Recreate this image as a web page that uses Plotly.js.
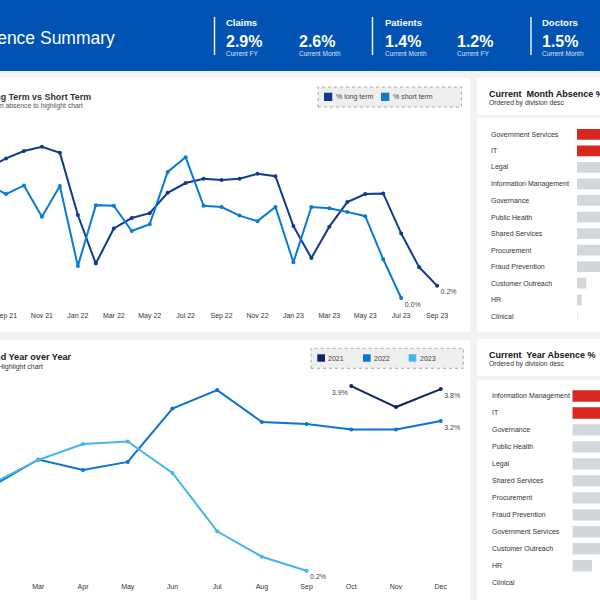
<!DOCTYPE html>
<html><head><meta charset="utf-8">
<script src="https://cdn.plot.ly/plotly-3.0.1.min.js"></script>
<style>html,body{margin:0;padding:0;background:#f3f3f3}#chart{width:600px;height:600px}</style>
</head><body><div id="chart"></div>
<script>
// ---------- DATA ----------
const months = ['Aug 21','Sep 21','Oct 21','Nov 21','Dec 21','Jan 22','Feb 22','Mar 22','Apr 22','May 22','Jun 22','Jul 22','Aug 22','Sep 22','Oct 22','Nov 22','Dec 22','Jan 23','Feb 23','Mar 23','Apr 23','May 23','Jun 23','Jul 23','Aug 23','Sep 23'];
const longTerm = [2.11,2.27,2.39,2.46,2.36,1.35,0.56,1.13,1.30,1.38,1.71,1.87,1.94,1.92,1.94,2.02,1.98,1.17,0.65,1.16,1.56,1.69,1.70,1.05,0.50,0.20];
const shortTerm = [1.85,1.69,1.83,1.32,1.82,0.52,1.51,1.50,1.09,1.20,2.05,2.29,1.50,1.48,1.34,1.25,1.48,0.58,1.48,1.46,1.40,1.33,0.63,0.00];
const monthTickLabels = ['Sep 21','Nov 21','Jan 22','Mar 22','May 22','Jul 22','Sep 22','Nov 22','Jan 23','Mar 23','May 23','Jul 23','Sep 23'];

const yoyMonths = ['Jan','Feb','Mar','Apr','May','Jun','Jul','Aug','Sep','Oct','Nov','Dec'];
const months2021 = ['Oct','Nov','Dec'];
const values2021 = [3.90,3.48,3.84];
const months2022 = ['Feb','Mar','Apr','May','Jun','Jul','Aug','Sep','Oct','Nov','Dec'];
const values2022 = [1.91,2.43,2.22,2.38,3.45,3.82,3.18,3.14,3.03,3.03,3.20];
const months2023 = ['Feb','Mar','Apr','May','Jun','Jul','Aug','Sep'];
const values2023 = [1.96,2.42,2.74,2.79,2.16,0.99,0.48,0.20];

const monthDivisions = ['Government Services','IT','Legal','Information Management','Governance','Public Health','Shared Services','Procurement','Fraud Prevention','Customer Outreach','HR','Clinical'];
const monthDivisionValues = [8.2,7.9,5.1,4.8,4.5,4.2,3.9,3.5,3.0,0.93,0.47,0.05];
const yearDivisions = ['Information Management','IT','Governance','Public Health','Legal','Shared Services','Procurement','Fraud Prevention','Government Services','Customer Outreach','HR','Clinical'];
const yearDivisionValues = [8.5,8.2,6.0,5.7,5.4,5.0,4.6,4.2,3.8,3.3,1.97,0];

const kpiGroups = ['Claims','Patients','Doctors'];
const kpiValues = ['2.9%','2.6%','1.4%','1.2%','1.5%'];
const kpiLabels = ['Current FY','Current Month','Current Month','Current FY','Current Month'];

// ---------- STYLE ----------
const F = 'Liberation Sans, Arial, sans-serif';
const C_LONG = '#0f3b8c', C_SHORT = '#0a7ad2';
const C21 = '#0d2568', C22 = '#0a74d0', C23 = '#45b5ea';
const RED = '#d8271e', GRAY = '#d4d7da';
const px = x => x/600, py = y => 1 - y/600;
const lastLabel = arr => arr.map((v,i)=> i===arr.length-1 ? v.toFixed(1)+'%' : '');

const shapes = [], annotations = [];
function rect(x0,y0,x1,y1,fill,line){ shapes.push({type:'rect',xref:'paper',yref:'paper',x0:px(x0),x1:px(x1),y0:py(y1),y1:py(y0),fillcolor:fill,line:line||{width:0},layer:'below'}); }
function vline(x,y0,y1,color,w){ shapes.push({type:'line',xref:'paper',yref:'paper',x0:px(x),x1:px(x),y0:py(y1),y1:py(y0),line:{color:color,width:w},layer:'below'}); }
function txt(x,y,s,size,color,xa){ annotations.push({xref:'paper',yref:'paper',x:px(x),y:py(y),text:s,showarrow:false,xanchor:xa||'left',yanchor:'middle',borderpad:0,font:{family:F,size:size,color:color}}); }

// header
rect(0,0,600,71,'#0052b3');
txt(116,38,'Absence Summary',17.5,'#ffffff','right');
[214.5,372.5,531].forEach(x=>vline(x,17,55,'#e8eef8',1.5));
const groupX = [225,384,541];
kpiGroups.forEach((g,i)=>txt(groupX[i],22.5,'<b>'+g+'</b>',9.5,'#ffffff'));
const valX = [225,298,384,456,541];
kpiValues.forEach((v,i)=>{ txt(valX[i],41,'<b>'+v+'</b>',16,'#ffffff'); txt(valX[i],53.5,kpiLabels[i],6.5,'#dce6f4'); });

// panels
rect(0,78,470,332,'#ffffff');
rect(477,78,600,115,'#ffffff');
rect(477,118,600,332,'#ffffff');
rect(0,340,470,600,'#ffffff');
rect(477,339,600,376,'#ffffff');
rect(477,380,600,600,'#ffffff');

// panel titles
txt(91.5,96.5,'<b>Absence Long Term vs Short Term</b>',8.9,'#333333','right');
txt(84,106,'Click on term absence to highlight chart',6.8,'#555555','right');
txt(72.5,357.3,'<b>Absence Trend Year over Year</b>',9.1,'#1a1a1a','right');
txt(44,366.7,'Click on year to Highlight chart',7,'#333333','right');
txt(487.5,94.5,'<b>Current\u00a0 Month Absence %</b>',9,'#111111');
txt(487.5,103.5,'Ordered by division desc',6.8,'#333333');
txt(487.5,355,'<b>Current\u00a0 Year Absence %</b>',9,'#111111');
txt(487.5,364,'Ordered by division desc',6.8,'#333333');

// legends
rect(318,87,461.5,107,'#efefef',{color:'#a8a8a8',width:1,dash:'dot'});
rect(324,92.7,332.3,101,C_LONG); txt(334.5,96.8,'% long term',7,'#444444');
rect(381,92.7,389.3,101,C_SHORT); txt(391.5,96.8,'% short term',7,'#444444');
rect(311,348.3,463.3,368.3,'#efefef',{color:'#a8a8a8',width:1,dash:'dot'});
rect(317.3,354.3,325,361.7,C21); txt(327.5,358,'2021',7,'#444444');
rect(363,354.3,370.7,361.7,C22); txt(373,358,'2022',7,'#444444');
rect(408.7,354.3,416.3,361.7,C23); txt(418.5,358,'2023',7,'#444444');

// bar labels
monthDivisions.forEach(d=>annotations.push({xref:'paper',yref:'y3',x:px(489),y:d,text:d,showarrow:false,xanchor:'left',yanchor:'middle',font:{family:F,size:7,color:'#333333'}}));
yearDivisions.forEach(d=>annotations.push({xref:'paper',yref:'y4',x:px(489.5),y:d,text:d,showarrow:false,xanchor:'left',yanchor:'middle',font:{family:F,size:7,color:'#333333'}}));

const lineTrace = (x,y,color,xa,ya)=>({x:x,y:y,xaxis:xa,yaxis:ya,type:'scatter',mode:'lines+markers+text',
  line:{color:color,width:2},marker:{color:color,size:4},text:lastLabel(y),textposition:'bottom right',
  textfont:{family:F,size:7,color:'#444444'},cliponaxis:false,hoverinfo:'skip',showlegend:false});

const t2021 = lineTrace(months2021,values2021,C21,'x2','y2');
t2021.text = values2021.map((v,i)=> (i===0||i===values2021.length-1) ? v.toFixed(1)+'%' : '');
t2021.textposition = values2021.map((v,i)=> i===0 ? 'bottom left' : 'bottom right');

const data = [
  lineTrace(months,longTerm,C_LONG,'x','y'),
  lineTrace(months.slice(0,shortTerm.length),shortTerm,C_SHORT,'x','y'),
  t2021,
  lineTrace(months2022,values2022,C22,'x2','y2'),
  lineTrace(months2023,values2023,C23,'x2','y2'),
  {type:'bar',orientation:'h',x:monthDivisionValues,y:monthDivisions,xaxis:'x3',yaxis:'y3',width:0.65,
   marker:{color:monthDivisionValues.map((v,i)=>i<2?RED:GRAY)},hoverinfo:'skip',showlegend:false},
  {type:'bar',orientation:'h',x:yearDivisionValues,y:yearDivisions,xaxis:'x4',yaxis:'y4',width:0.67,
   marker:{color:yearDivisionValues.map((v,i)=>i<2?RED:GRAY)},hoverinfo:'skip',showlegend:false}
];

const hidden = {visible:false,fixedrange:true};
const layout = {
  width:600,height:600,margin:{l:0,r:0,t:0,b:0},
  paper_bgcolor:'#f3f3f3',plot_bgcolor:'rgba(0,0,0,0)',showlegend:false,
  font:{family:F},
  xaxis:{domain:[0,0.78],anchor:'y',type:'category',categoryorder:'array',categoryarray:months,range:[0.666,26.72],
    tickmode:'array',tickvals:monthTickLabels,ticktext:monthTickLabels,showgrid:false,zeroline:false,showline:false,ticks:'',
    ticklabelstandoff:4,tickfont:{family:F,size:7,color:'#333333'},fixedrange:true},
  yaxis:Object.assign({domain:[py(306),py(125)],anchor:'x',range:[-0.13,2.813]},hidden),
  xaxis2:{domain:[0,0.78],anchor:'y2',type:'category',categoryorder:'array',categoryarray:yoyMonths,range:[1.143,11.61],
    tickmode:'array',tickvals:yoyMonths,ticktext:yoyMonths,showgrid:false,zeroline:false,showline:false,ticks:'',
    ticklabelstandoff:4,tickfont:{family:F,size:7,color:'#333333'},fixedrange:true},
  yaxis2:Object.assign({domain:[py(577),py(380)],anchor:'x2',range:[0.074,4.022]},hidden),
  xaxis3:Object.assign({domain:[px(577),1],anchor:'y3',range:[0,2.3]},hidden),
  yaxis3:Object.assign({domain:[py(324.6),py(126)],anchor:'x3',type:'category',categoryorder:'array',categoryarray:monthDivisions,range:[11.5,-0.5]},hidden),
  xaxis4:Object.assign({domain:[px(572.3),1],anchor:'y4',range:[0,2.77]},hidden),
  yaxis4:Object.assign({domain:[py(591.2),py(387.5)],anchor:'x4',type:'category',categoryorder:'array',categoryarray:yearDivisions,range:[11.5,-0.5]},hidden),
  shapes:shapes,annotations:annotations
};
Plotly.newPlot('chart',data,layout,{displayModeBar:false,staticPlot:true});
</script></body></html>
